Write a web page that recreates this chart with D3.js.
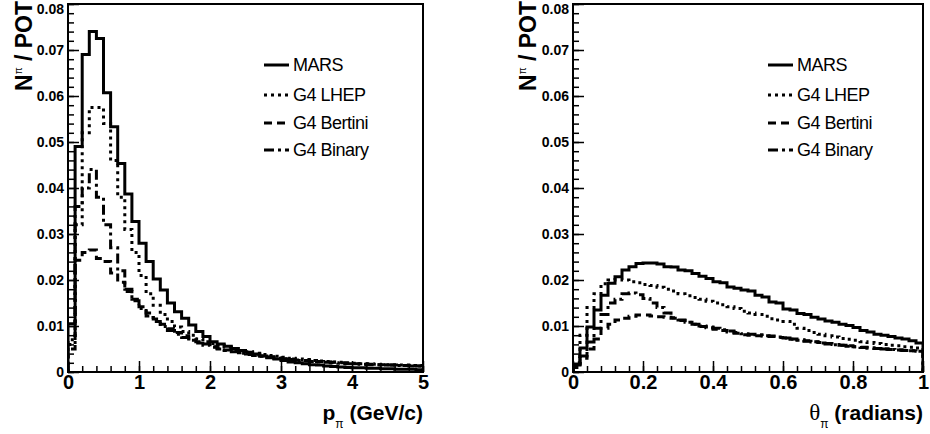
<!DOCTYPE html>
<html>
<head>
<meta charset="utf-8">
<script src="https://cdn.jsdelivr.net/npm/d3@7"></script>
<style>
  body { margin: 0; background: #fff; }
  text { font-family: "Liberation Sans", Arial, sans-serif; }
</style>
</head>
<body>
<svg id="chart" width="930" height="434"></svg>
<script>
// series names, legend order
const seriesNames = ["MARS", "G4 LHEP", "G4 Bertini", "G4 Binary"];

// momentum histograms, 50 bins of 0.1 GeV/c from 0 to 5
const pBinWidth = 0.1;
const marsP = [
  0.0105, 0.049, 0.069, 0.074, 0.0725, 0.0607, 0.0533, 0.0453, 0.0387, 0.0327,
  0.028, 0.024, 0.0202, 0.0178, 0.015, 0.0131, 0.0117, 0.0102, 0.0088, 0.0077,
  0.0066, 0.0061, 0.0056, 0.0051, 0.0047, 0.0043, 0.0039, 0.0035, 0.0031, 0.0028,
  0.0025, 0.0022, 0.0020, 0.0018, 0.0016, 0.0015, 0.0013, 0.0012, 0.0011, 0.0010,
  0.0009, 0.0009, 0.0008, 0.0008, 0.0007, 0.0007, 0.0006, 0.0006, 0.0006, 0.0005
];
const lhepP = [
  0.007, 0.032, 0.052, 0.0575, 0.0575, 0.054, 0.046, 0.038, 0.031, 0.026,
  0.021, 0.017, 0.0145, 0.0125, 0.011, 0.0098, 0.0088, 0.008, 0.0072, 0.0066,
  0.0062, 0.0058, 0.0054, 0.0050, 0.0047, 0.0044, 0.0041, 0.0038, 0.0036, 0.0034,
  0.0032, 0.0030, 0.0028, 0.0027, 0.0025, 0.0024, 0.0023, 0.0022, 0.0021, 0.0020,
  0.0019, 0.0018, 0.0018, 0.0017, 0.0016, 0.0016, 0.0015, 0.0015, 0.0014, 0.0014
];
const bertiniP = [
  0.005, 0.0243, 0.026, 0.0265, 0.0247, 0.024, 0.0215, 0.0195, 0.0175, 0.0158,
  0.0142, 0.0128, 0.0115, 0.0104, 0.0094, 0.0086, 0.0079, 0.0072, 0.0066, 0.0061,
  0.0055, 0.0051, 0.0048, 0.0045, 0.0042, 0.0039, 0.0037, 0.0035, 0.0033, 0.0031,
  0.0029, 0.0028, 0.0026, 0.0025, 0.0024, 0.0023, 0.0022, 0.0021, 0.0020, 0.0019,
  0.0018, 0.0018, 0.0017, 0.0016, 0.0016, 0.0015, 0.0015, 0.0014, 0.0014, 0.0013
];
const binaryP = [
  0.006, 0.036, 0.040, 0.044, 0.038, 0.032, 0.027, 0.022, 0.018, 0.0155,
  0.0138, 0.0122, 0.011, 0.0099, 0.009, 0.0082, 0.0075, 0.0069, 0.0063, 0.0058,
  0.0054, 0.0050, 0.0047, 0.0044, 0.0041, 0.0038, 0.0036, 0.0034, 0.0032, 0.0030,
  0.0028, 0.0027, 0.0025, 0.0024, 0.0023, 0.0022, 0.0021, 0.0020, 0.0019, 0.0018,
  0.0018, 0.0017, 0.0016, 0.0016, 0.0015, 0.0015, 0.0014, 0.0014, 0.0013, 0.0013
];

// angle histograms, 50 bins of 0.02 rad from 0 to 1
const thetaBinWidth = 0.02;
const marsTheta = [
  0.0015, 0.0052, 0.0098, 0.0135, 0.0167, 0.0193, 0.0207, 0.0222, 0.0229, 0.0236,
  0.0237, 0.0237, 0.0235, 0.0229, 0.0228, 0.0222, 0.0220, 0.0214, 0.0208, 0.0203,
  0.0196, 0.0194, 0.0185, 0.0182, 0.0178, 0.0176, 0.0167, 0.0163, 0.0152, 0.0150,
  0.0137, 0.0135, 0.0127, 0.0125, 0.0119, 0.0115, 0.0111, 0.0108, 0.0104, 0.0101,
  0.0097, 0.0090, 0.0087, 0.0082, 0.0080, 0.0077, 0.0074, 0.0072, 0.0068, 0.0063
];
const lhepTheta = [
  0.002, 0.008, 0.014, 0.017, 0.0192, 0.0200, 0.0201, 0.0200, 0.0196, 0.0194,
  0.0190, 0.0188, 0.0184, 0.0180, 0.0176, 0.0170, 0.0166, 0.0162, 0.0158, 0.0154,
  0.0150, 0.0146, 0.0142, 0.0138, 0.0132, 0.0128, 0.0125, 0.0121, 0.0116, 0.0113,
  0.0110, 0.0104, 0.0095, 0.0090, 0.0086, 0.0082, 0.0079, 0.0076, 0.0073, 0.0071,
  0.0069, 0.0066, 0.0064, 0.0062, 0.0060, 0.0058, 0.0057, 0.0055, 0.0054, 0.0052
];
const bertiniTheta = [
  0.001, 0.003, 0.005, 0.0072, 0.0095, 0.0104, 0.0113, 0.0117, 0.0121, 0.0124,
  0.0124, 0.0122, 0.0120, 0.0119, 0.0117, 0.0112, 0.0108, 0.0104, 0.0099, 0.0096,
  0.0093, 0.0090, 0.0087, 0.0084, 0.0081, 0.0080, 0.0079, 0.0078, 0.0077, 0.0075,
  0.0074, 0.0072, 0.0070, 0.0068, 0.0066, 0.0064, 0.0062, 0.0060, 0.0058, 0.0057,
  0.0055, 0.0054, 0.0052, 0.0051, 0.0050, 0.0049, 0.0048, 0.0047, 0.0046, 0.0045
];
const binaryTheta = [
  0.001, 0.0035, 0.0065, 0.0095, 0.0125, 0.0150, 0.0158, 0.0170, 0.0172, 0.0168,
  0.0160, 0.0150, 0.0140, 0.0128, 0.0118, 0.0113, 0.0108, 0.0104, 0.0100, 0.0098,
  0.0095, 0.0092, 0.0089, 0.0086, 0.0083, 0.0082, 0.0081, 0.0079, 0.0078, 0.0076,
  0.0074, 0.0071, 0.0069, 0.0067, 0.0065, 0.0063, 0.0061, 0.0059, 0.0058, 0.0056,
  0.0055, 0.0053, 0.0052, 0.0051, 0.0050, 0.0049, 0.0048, 0.0047, 0.0046, 0.0045
];

// tick labels
const yTicks = [0, 0.01, 0.02, 0.03, 0.04, 0.05, 0.06, 0.07, 0.08];
const pTicks = [0, 1, 2, 3, 4, 5];
const thetaTicks = [0, 0.2, 0.4, 0.6, 0.8, 1];

// ROOT-ish line styles: solid, dotted, dashed, dash-dot
const dashes = [null, "3,4", "8,5", "10,4,3,4"];

const svg = d3.select("#chart");
const plotTop = 4, plotBottom = 372;
const y = d3.scaleLinear().domain([0, 0.08]).range([plotBottom, plotTop]);

const panels = [
  { left: 68, right: 423, xMax: 5, binWidth: pBinWidth, ticks: pTicks, minor: 0.2,
    series: [marsP, lhepP, bertiniP, binaryP], legendX: 264, yTitleX: 32,
    xTitle: ["p", " (GeV/c)"], serif: false },
  { left: 573, right: 923, xMax: 1, binWidth: thetaBinWidth, ticks: thetaTicks, minor: 0.04,
    series: [marsTheta, lhepTheta, bertiniTheta, binaryTheta], legendX: 768, yTitleX: 536,
    xTitle: ["θ", " (radians)"], serif: true }
];

panels.forEach((p, pi) => {
  const x = d3.scaleLinear().domain([0, p.xMax]).range([p.left, p.right]);
  const g = svg.append("g");

  const clipId = "clip" + pi;
  svg.append("clipPath").attr("id", clipId)
    .append("rect")
    .attr("x", p.left).attr("y", plotTop)
    .attr("width", p.right - p.left).attr("height", plotBottom - plotTop);

  // histograms
  const line = d3.line().x(d => x(d[0])).y(d => y(d[1])).curve(d3.curveStepAfter);
  p.series.forEach((vals, si) => {
    const pts = [[0, 0]];
    vals.forEach((v, i) => pts.push([i * p.binWidth, v]));
    pts.push([vals.length * p.binWidth, vals[vals.length - 1]]);
    pts.push([vals.length * p.binWidth, 0]);
    g.append("path")
      .attr("d", line(pts))
      .attr("clip-path", `url(#${clipId})`)
      .attr("fill", "none")
      .attr("stroke", "#000")
      .attr("stroke-width", 3)
      .attr("stroke-dasharray", dashes[si]);
  });

  // frame
  g.append("rect")
    .attr("x", p.left).attr("y", plotTop)
    .attr("width", p.right - p.left).attr("height", plotBottom - plotTop)
    .attr("fill", "none").attr("stroke", "#000").attr("stroke-width", 2);

  // y axis, ticks pointing inward
  const yMinor = d3.range(0, 0.0801, 0.002);
  g.append("g").attr("transform", `translate(${p.left},0)`)
    .call(d3.axisLeft(y).tickValues(yMinor).tickSize(-6).tickFormat(""))
    .call(a => a.select(".domain").remove());
  g.append("g").attr("transform", `translate(${p.left},0)`)
    .call(d3.axisLeft(y).tickValues(yTicks).tickSize(-11).tickPadding(4)
      .tickFormat(d => d === 0 ? "0" : d3.format(".2f")(d)))
    .call(a => a.select(".domain").remove())
    .call(a => a.selectAll("text")
      .style("font-family", "'Liberation Sans', Arial, sans-serif")
      .style("font-weight", "bold").style("font-size", "14px").attr("fill", "#000")
      .attr("dy", d => d === 0.08 ? "0.68em" : "0.32em"));

  // x axis
  const xMinor = d3.range(0, p.xMax + 1e-9, p.minor);
  g.append("g").attr("transform", `translate(0,${plotBottom})`)
    .call(d3.axisBottom(x).tickValues(xMinor).tickSize(-6).tickFormat(""))
    .call(a => a.select(".domain").remove());
  g.append("g").attr("transform", `translate(0,${plotBottom})`)
    .call(d3.axisBottom(x).tickValues(p.ticks).tickSize(-11).tickPadding(3)
      .tickFormat(d => d3.format("~g")(d)))
    .call(a => a.select(".domain").remove())
    .call(a => a.selectAll("text")
      .style("font-family", "'Liberation Sans', Arial, sans-serif")
      .style("font-weight", "bold").style("font-size", "20px").attr("fill", "#000"));
  g.selectAll(".tick line").attr("stroke", "#000").attr("stroke-width", 1.5);

  // y title
  const yt = g.append("text")
    .attr("transform", `translate(${p.yTitleX},1) rotate(-90)`)
    .attr("text-anchor", "end")
    .style("font-weight", "bold").style("font-size", "23px");
  yt.append("tspan").text("N");
  yt.append("tspan").attr("dy", -10).style("font-size", "10px").style("font-weight", "normal").text("π");
  yt.append("tspan").attr("dy", 10).text(" / POT");

  // x title
  const xt = g.append("text")
    .attr("x", p.right).attr("y", 420)
    .attr("text-anchor", "end")
    .style("font-weight", "bold").style("font-size", "21px");
  xt.append("tspan")
    .style("font-family", p.serif ? "'Liberation Serif', serif" : null)
    .style("font-weight", p.serif ? "normal" : "bold")
    .style("font-size", p.serif ? "23px" : null)
    .text(p.xTitle[0]);
  xt.append("tspan").attr("dy", 8).style("font-size", "12px").style("font-weight", "normal").text("π");
  xt.append("tspan").attr("dy", -8).text(p.xTitle[1]);

  // legend
  const rowY = [65, 95, 123, 150];
  seriesNames.forEach((name, si) => {
    g.append("line")
      .attr("x1", p.legendX).attr("x2", p.legendX + 25)
      .attr("y1", rowY[si]).attr("y2", rowY[si])
      .attr("stroke", "#000").attr("stroke-width", 3)
      .attr("stroke-dasharray", dashes[si]);
    g.append("text")
      .attr("x", p.legendX + 29).attr("y", rowY[si])
      .attr("dy", "0.36em")
      .style("font-size", "18px")
      .style("letter-spacing", "-0.5px")
      .text(name);
  });
});
</script>
</body>
</html>
